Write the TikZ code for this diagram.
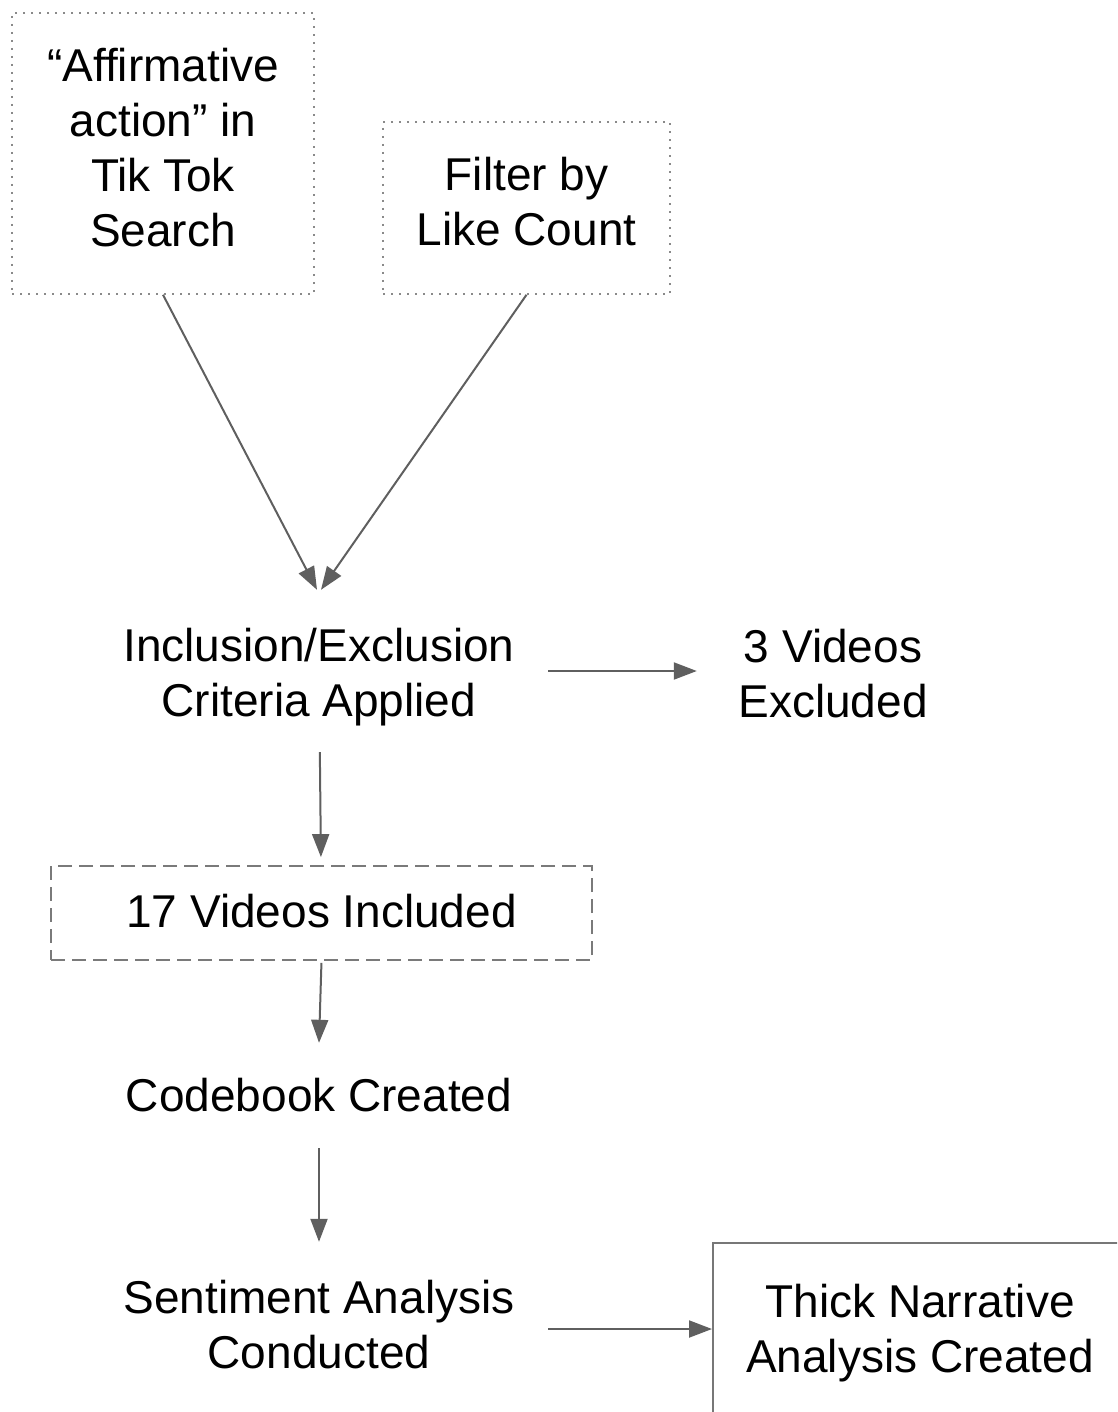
\documentclass[tikz,border=0pt]{standalone}
\usepackage{fontspec}
\setmainfont{Liberation Sans}
\usetikzlibrary{arrows.meta}
\definecolor{linegray}{HTML}{5F5F5F}
\definecolor{dotgray}{HTML}{8A8A8A}
\definecolor{dashgray}{HTML}{7A7A7A}
\begin{document}
\begin{tikzpicture}[x=1pt,y=-1pt,
  every node/.style={inner sep=0pt},
  txt/.style={font=\fontsize{46}{55}\selectfont, align=center, text=black},
  dotbox/.style={draw=dotgray, line width=1.6pt, dash pattern=on 1.6pt off 6.4pt},
  dashbox/.style={draw=dashgray, line width=1.8pt, dash pattern=on 14pt off 7pt},
  solidbox/.style={draw=linegray!85, line width=2pt},
  flow/.style={draw=linegray, line width=2pt, -{Triangle[length=23pt,width=17pt]}}
]
\useasboundingbox (0,0) rectangle (1117,1412);
\clip (0,0) rectangle (1117,1412);

% frames (the outlines that connectors attach to)
\node[dotbox, minimum width=302pt, minimum height=281pt] (search) at (163,153.5) {};
\node[dotbox, minimum width=287pt, minimum height=172pt] (filter) at (526.5,208) {};
\node[minimum width=458pt, minimum height=162pt] (criteria) at (319,671) {};
\node[minimum width=272pt, minimum height=162pt] (excluded) at (833,671) {};
\node[dashbox, minimum width=541pt, minimum height=94pt] (included) at (321.5,913) {};
\node[minimum width=420pt, minimum height=105pt] (codebook) at (319,1095.5) {};
\node[minimum width=458pt, minimum height=174pt] (sentiment) at (319,1329) {};
\node[solidbox, minimum width=414pt, minimum height=172pt] (narrative) at (920,1329) {};

% labels (yshift is upward on the page)
\node[txt] (search-t) at ([yshift=6pt]search.center) {“Affirmative\\action” in\\Tik Tok\\Search};
\node[txt] (filter-t) at ([yshift=6pt]filter.center) {Filter by\\Like Count};
\node[txt] (criteria-t) at ([yshift=-6.5pt]criteria.center) {Inclusion/Exclusion\\Criteria Applied};
\node[txt] (excluded-t) at ([yshift=-2.5pt]excluded.center) {3 Videos\\Excluded};
\node[txt] (included-t) at ([yshift=2pt]included.center) {17 Videos Included};
\node[txt] (codebook-t) at (codebook.center) {Codebook Created};
\node[txt] (sentiment-t) at ([yshift=4.5pt]sentiment.center) {Sentiment Analysis\\Conducted};
\node[txt] (narrative-t) at ([yshift=-4.5pt]narrative.center) {Thick Narrative\\Analysis Created};

% connectors
\draw[flow] (search.south) -- ([xshift=-2pt]criteria.north);
\draw[flow] (filter.south) -- ([xshift=2pt]criteria.north);
\draw[flow] (criteria.east) -- (excluded.west);
\draw[flow, shorten >=8pt] (criteria) -- (included);
\draw[flow, shorten <=2pt] (included.south) -- (codebook.north);
\draw[flow] (codebook.south) -- (sentiment.north);
\draw[flow] (sentiment.east) -- (narrative.west);
\end{tikzpicture}
\end{document}
